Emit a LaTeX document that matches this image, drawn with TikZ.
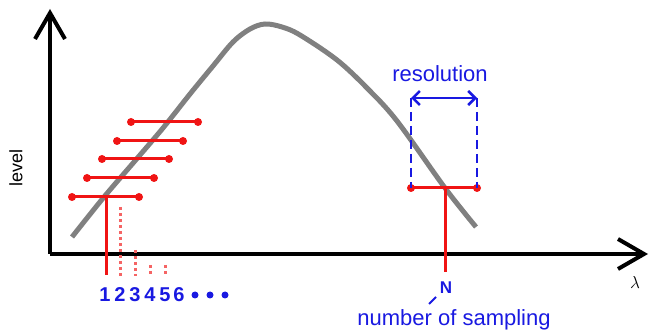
\documentclass[tikz,border=0pt]{standalone}
\usepackage{fontspec}
\setmainfont{Liberation Sans}
\usetikzlibrary{arrows.meta}
\definecolor{myred}{RGB}{240,20,20}
\definecolor{mypink}{RGB}{245,100,100}
\definecolor{myblue}{RGB}{25,25,225}
\definecolor{mygray}{RGB}{128,128,128}
\tikzset{
  axis/.style={line width=4pt,-{Straight Barb[length=26pt,width=30pt,line width=4pt]}},
  bar/.style={myred,line width=3pt},
  endpt/.style={circle,fill=myred,inner sep=0pt,minimum size=8pt},
  dotline/.style={mypink,line width=3pt,dash pattern=on 3pt off 3pt},
  bluedash/.style={myblue,line width=2.5pt,dash pattern=on 9pt off 5pt},
  bluedot/.style={circle,fill=myblue,inner sep=0pt,minimum size=7pt},
  digit/.style={myblue,font=\fontsize{20}{20}\selectfont\bfseries,inner sep=0pt},
  lbl/.style={myblue,inner sep=0pt,font=\fontsize{22}{22}\selectfont}
}
\begin{document}
\begin{tikzpicture}[x=1pt,y=-1pt]
\useasboundingbox (0,0) rectangle (651,331);
% axes
\coordinate (O) at (50,254);
\coordinate (Ytop) at (50,9);
\coordinate (Xend) at (648,254);
\draw[axis] (O) -- (Ytop);
\draw[axis] (O) -- (Xend);
\node[inner sep=0pt,rotate=90,font=\fontsize{18}{18}\selectfont] (level) at (16,168) {level};
\node[inner sep=0pt,font=\fontsize{16}{16}\selectfont] (lam) at (635,282) {$\lambda$};
% curve
\draw[mygray,line width=5pt,line cap=butt] plot[smooth,tension=0.55] coordinates {(72,237) (104,197) (134,162) (163,128) (190,94) (213,66) (233,42) (250,29) (265,24) (282,27) (300,35) (337,60) (367,88) (397,121) (445,188) (476,227)};
% left bars
\foreach \i/\xa/\xb/\yy in {1/131/198/122, 2/117/183/141, 3/102/169/159, 4/87/154/178, 5/72/139/197}{
  \node[endpt] (L\i) at (\xa,\yy) {};
  \node[endpt] (R\i) at (\xb,\yy) {};
  \draw[bar] (L\i.center) -- (R\i.center);
}
\coordinate (s1top) at (106,197);
\coordinate (s1bot) at (106,275);
\draw[bar] (s1top) -- (s1bot);
\coordinate (d2t) at (120,207); \coordinate (d2b) at (120,276);
\coordinate (d3t) at (135,250); \coordinate (d3b) at (135,276);
\coordinate (d4t) at (150,265); \coordinate (d4b) at (150,276);
\coordinate (d5t) at (165,265); \coordinate (d5b) at (165,276);
\foreach \k in {2,3,4,5}{\draw[dotline] (d\k t) -- (d\k b);}
% digits
\foreach \d/\x in {1/105,2/120,3/135,4/150,5/165,6/179}{
  \node[digit] (n\d) at (\x,295) {\d};
}
\node[bluedot] (e1) at (195,295) {};
\node[bluedot] (e2) at (210,295) {};
\node[bluedot] (e3) at (225,295) {};
% right bar
\node[endpt] (RL) at (411,188) {};
\node[endpt] (RR) at (477,188) {};
\draw[bar] (RL.center) -- (RR.center);
\coordinate (Ntop) at (445,188);
\coordinate (Nbot) at (445,272);
\draw[bar] (Ntop) -- (Nbot);
\coordinate (RLt) at (411,98);
\coordinate (RRt) at (477,98);
\draw[bluedash] (RLt) -- (RL.center);
\draw[bluedash] (RRt) -- (RR.center);
\draw[myblue,line width=2.5pt,{Straight Barb[length=7pt,width=14pt,line width=2.5pt]}-{Straight Barb[length=7pt,width=14pt,line width=2.5pt]}] (RLt) -- (RRt);
\node[lbl,anchor=base] (res) at (440,82) {resolution};
\node[myblue,inner sep=0pt,font=\fontsize{17}{17}\selectfont\bfseries] (N) at (446,288) {N};
\node[lbl,anchor=base] (nos) at (454,325) {number of sampling};
\coordinate (tk1) at (436,297);
\coordinate (tk2) at (429,304);
\draw[myblue,line width=2pt] (tk1) -- (tk2);
\end{tikzpicture}
\end{document}
